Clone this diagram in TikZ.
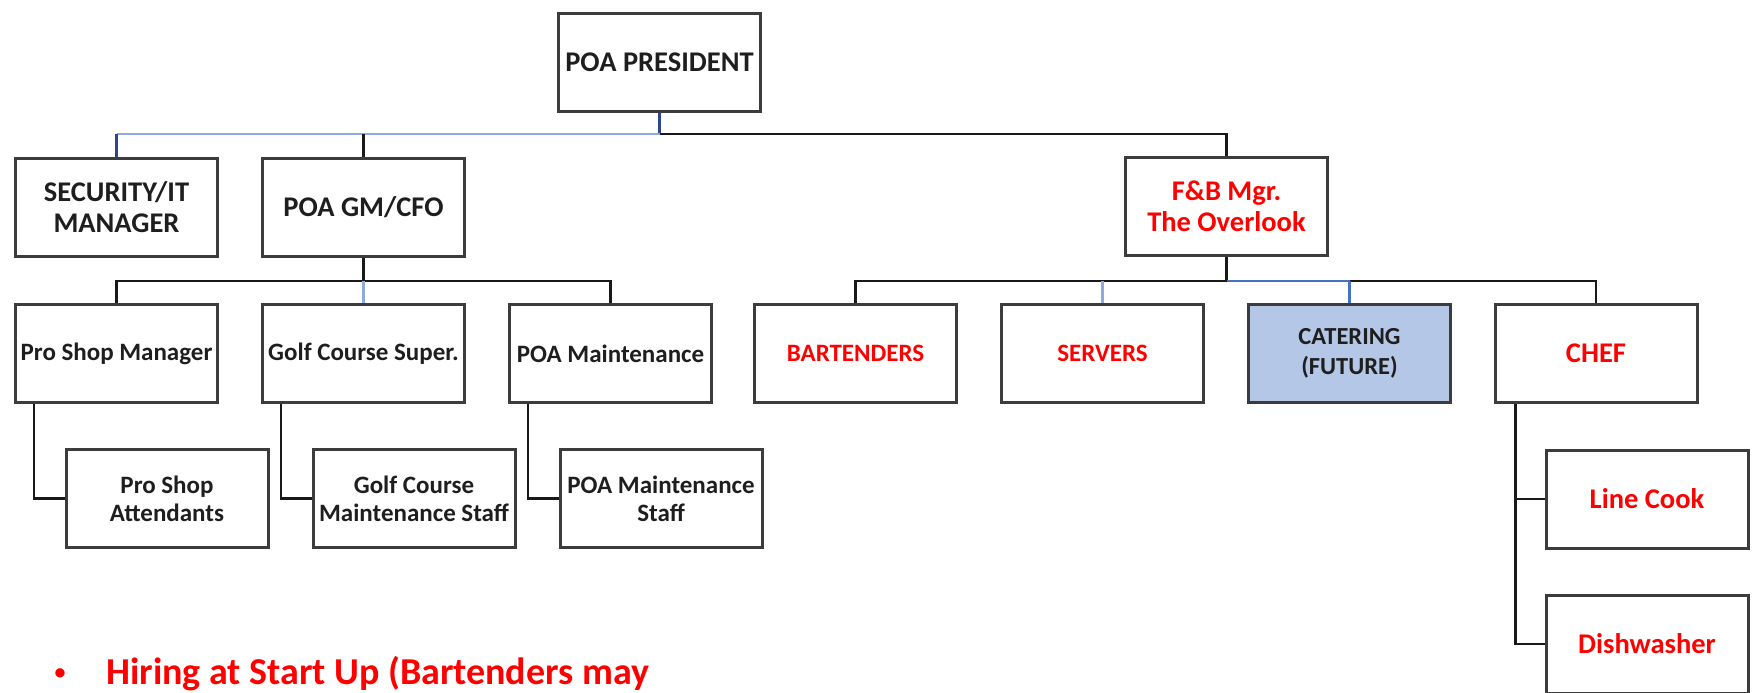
\documentclass[tikz,border=0pt]{standalone}
\usepackage{fontspec}
\setmainfont{Carlito}
\definecolor{boxline}{RGB}{60,60,60}
\definecolor{lineblk}{RGB}{25,25,25}
\definecolor{ltblue}{RGB}{143,170,220}
\definecolor{midblue}{RGB}{68,114,196}
\definecolor{dkblue}{RGB}{45,70,140}
\definecolor{catfill}{RGB}{180,199,231}
\definecolor{redtxt}{RGB}{255,0,0}
\definecolor{txt}{RGB}{30,30,30}
\tikzset{
  orgbox/.style={draw=boxline, line width=3pt, rectangle, minimum width=202pt,
    minimum height=98pt, inner sep=0pt, align=center, text=txt,
    font=\bfseries\fontsize{28.5}{31}\selectfont},
  smallbox/.style={orgbox, font=\bfseries\fontsize{25}{28}\selectfont},
  redtext/.style={text=redtxt},
  conn/.style={draw=lineblk, line width=2.5pt},
  connlb/.style={draw=ltblue, line width=2.8pt},
  connmb/.style={draw=midblue, line width=2.5pt},
  conndb/.style={draw=dkblue, line width=2.5pt}
}
\begin{document}
\begin{tikzpicture}[x=1pt,y=-1pt]
\useasboundingbox (0,0) rectangle (1754,693);
% level 0
\node[orgbox] (pres) at (659.5,62.5) {POA PRESIDENT};
% level 1
\node[orgbox] (sec) at (116.5,207) {SECURITY/IT\\MANAGER};
\node[orgbox] (gm) at (363.5,207) {POA GM/CFO};
\node[orgbox, redtext] (fb) at (1226.5,206.5) {F\&B Mgr.\\The Overlook};
% level 2 left
\node[smallbox] (psm) at (116.5,353.5) {Pro Shop Manager};
\node[smallbox] (gcs) at (363.5,353.5) {Golf Course Super.};
\node[smallbox] (poam) at (610.5,353.5) {POA Maintenance};
% level 2 right
\node[smallbox, redtext] (bar) at (855.5,353.5) {BARTENDERS};
\node[smallbox, redtext] (srv) at (1102.5,353.5) {SERVERS};
\node[smallbox, fill=catfill, font=\bfseries\fontsize{24.5}{30}\selectfont] (cat) at (1349.5,353.5) {CATERING\\(FUTURE)};
\node[orgbox, redtext] (chef) at (1596,353.5) {CHEF};
% level 3
\node[smallbox] (psa) at (167,498.5) {Pro Shop\\Attendants};
\node[smallbox] (gcms) at (414,498.5) {Golf Course\\Maintenance Staff};
\node[smallbox] (poams) at (661,498.5) {POA Maintenance\\Staff};
\node[orgbox, redtext] (lc) at (1647,499) {Line Cook};
\node[orgbox, redtext] (dw) at (1647,644) {Dishwasher};
% bus coordinates
\coordinate (h1) at (0,134);
\coordinate (h2) at (0,281);
% connectors level 0 -> 1
\draw[conndb] (pres.south) -- (pres.south |- h1);
\draw[connlb] (sec.north |- h1) -- (pres.south |- h1);
\draw[conndb] (sec.north) -- (sec.north |- h1);
\draw[conn] (gm.north) -- (gm.north |- h1);
\draw[conn] (pres.south |- h1) -| (fb.north);
% GM -> level 2
\draw[conn] (gm.south) -- (gm.south |- h2);
\draw[conn] (psm.north) |- (poam.north |- h2) -- (poam.north);
\draw[connlb] (gcs.north |- h2) -- (gcs.north);
% F&B -> level 2
\draw[conn] (fb.south) -- (fb.south |- h2);
\draw[conn] (bar.north) |- (fb.south |- h2);
\draw[connmb] (fb.south |- h2) -- (cat.north |- h2);
\draw[conn] (cat.north |- h2) -| (chef.north);
\draw[connlb] (srv.north |- h2) -- (srv.north);
\draw[connmb] (cat.north |- h2) -- (cat.north);
% level 2 -> 3
\draw[conn] (psm.south west) ++(20,0) |- (psa.west);
\draw[conn] (gcs.south west) ++(20,0) |- (gcms.west);
\draw[conn] (poam.south west) ++(20,0) |- (poams.west);
\draw[conn] (chef.south west) ++(22,0) |- (lc.west);
\draw[conn] (chef.south west) ++(22,0) |- (dw.west);
% note
\node[anchor=base, text=redtxt, font=\bfseries\fontsize{22}{24}\selectfont] (bul) at (60,679) {\textbullet};
\node[anchor=base west, text=redtxt, font=\bfseries\fontsize{38}{40}\selectfont, inner sep=0pt] (note) at (106,684) {Hiring at Start Up (Bartenders may};
\end{tikzpicture}
\end{document}
